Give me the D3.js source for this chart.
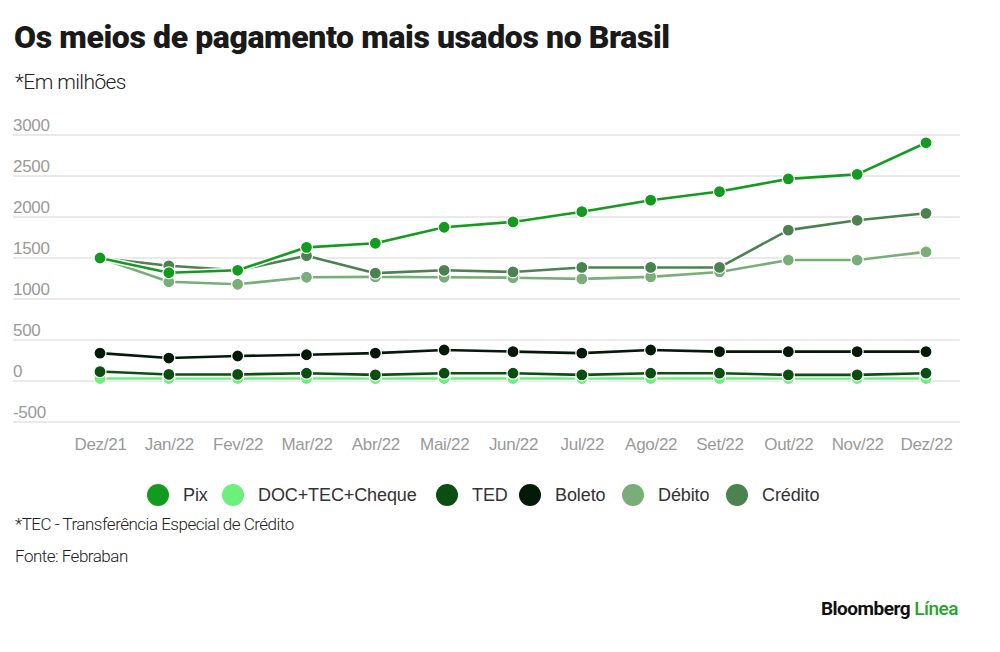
<!DOCTYPE html>
<html>
<head>
<meta charset="utf-8">
<script src="https://cdn.jsdelivr.net/npm/d3@7"></script>
<style>
  body { margin: 0; background: #fff; }
  svg { display: block; font-family: "Liberation Sans", Arial, sans-serif; }
</style>
</head>
<body>
<svg id="chart" width="1000" height="652"></svg>
<script>
// dados (em milhões)
const months = ["Dez/21","Jan/22","Fev/22","Mar/22","Abr/22","Mai/22","Jun/22","Jul/22","Ago/22","Set/22","Out/22","Nov/22","Dez/22"];
const pix     = [1500,1320,1350,1630,1680,1875,1940,2065,2205,2310,2465,2520,2905];
const doc     = [30,30,30,30,30,30,30,30,30,30,30,30,30];
const ted     = [115,80,80,95,75,95,95,75,95,95,75,75,95];
const boleto  = [340,280,305,320,340,378,358,340,378,358,358,358,358];
const debito  = [1500,1210,1180,1265,1270,1265,1260,1245,1270,1330,1475,1475,1575];
const credito = [1500,1405,1350,1528,1315,1350,1330,1385,1385,1385,1840,1960,2045];
const yTicks  = [-500,0,500,1000,1500,2000,2500,3000];

const series = [
  {name:"Pix", values:pix, color:"#139b20"},
  {name:"DOC+TEC+Cheque", values:doc, color:"#6cef7c"},
  {name:"TED", values:ted, color:"#0c4e11"},
  {name:"Boleto", values:boleto, color:"#031a06"},
  {name:"Débito", values:debito, color:"#7aae78"},
  {name:"Crédito", values:credito, color:"#4c8250"}
];
// ordem de desenho (de baixo para cima)
const drawOrder = ["DOC+TEC+Cheque","TED","Boleto","Débito","Crédito","Pix"];

const svg = d3.select("#chart");

svg.append("text").attr("x",14).attr("y",48)
  .attr("font-family","Roboto, sans-serif").attr("font-weight",900)
  .attr("font-size",32).attr("letter-spacing",-0.4).attr("fill","#1a1a1a")
  .text("Os meios de pagamento mais usados no Brasil");

svg.append("text").attr("x",15).attr("y",89)
  .attr("font-family","Roboto, sans-serif").attr("font-weight",300)
  .attr("font-size",21).attr("letter-spacing",-0.6).attr("fill","#222")
  .text("*Em milhões");

const x = d3.scalePoint().domain(months).range([100, 926]);
const y = d3.scaleLinear().domain([-500, 3000]).range([422, 135]);

// grade e rótulos do eixo y
const grid = svg.append("g");
grid.selectAll("line").data(yTicks).join("line")
  .attr("x1",13).attr("x2",960)
  .attr("y1",d=>y(d)).attr("y2",d=>y(d))
  .attr("stroke","#d4d4d4").attr("stroke-width",1);
grid.selectAll("text").data(yTicks).join("text")
  .attr("x",13).attr("y",d=>y(d)-4)
  .attr("font-size",17).attr("fill","#9a9a9a").attr("letter-spacing",-0.3)
  .text(d=>d);

// eixo x
const xAxis = svg.append("g").attr("transform","translate(0,422)")
  .call(d3.axisBottom(x).tickSize(0).tickPadding(16));
xAxis.select(".domain").remove();
xAxis.selectAll("text").attr("font-size",17).attr("fill","#9a9a9a")
  .attr("font-family","Liberation Sans, Arial, sans-serif").attr("letter-spacing",-0.3);

const line = d3.line().x((d,i)=>x(months[i])).y(d=>y(d));

drawOrder.forEach(n=>{
  const s = series.find(d=>d.name===n);
  const g = svg.append("g");
  g.append("path").datum(s.values)
    .attr("d",line).attr("fill","none")
    .attr("stroke","#fff").attr("stroke-width",5.5).attr("stroke-linejoin","round");
  g.append("path").datum(s.values)
    .attr("d",line).attr("fill","none")
    .attr("stroke",s.color).attr("stroke-width",2.6).attr("stroke-linejoin","round");
  g.selectAll("circle").data(s.values).join("circle")
    .attr("cx",(d,i)=>x(months[i])).attr("cy",d=>y(d))
    .attr("r",6).attr("fill",s.color).attr("stroke","#fff").attr("stroke-width",1.2);
});

// legenda
const legendX = [158,233,447,530,633,737];
const legend = svg.append("g");
series.forEach((s,i)=>{
  legend.append("circle").attr("cx",legendX[i]).attr("cy",495).attr("r",11).attr("fill",s.color);
  legend.append("text").attr("x",legendX[i]+25).attr("y",501)
    .attr("font-size",18).attr("fill","#333").attr("letter-spacing",-0.1)
    .text(s.name);
});

svg.append("text").attr("x",15).attr("y",530)
  .attr("font-family","Roboto, sans-serif").attr("font-weight",300)
  .attr("font-size",17).attr("letter-spacing",-0.5).attr("fill","#222")
  .text("*TEC - Transferência Especial de Crédito");

svg.append("text").attr("x",15).attr("y",562)
  .attr("font-family","Roboto, sans-serif").attr("font-weight",300)
  .attr("font-size",17).attr("letter-spacing",-0.5).attr("fill","#222")
  .text("Fonte: Febraban");

const brand = svg.append("text").attr("x",958).attr("y",615).attr("text-anchor","end")
  .attr("font-family","Roboto, sans-serif").attr("font-weight",700)
  .attr("font-size",19).attr("letter-spacing",-0.5);
brand.append("tspan").attr("fill","#111").text("Bloomberg ");
brand.append("tspan").attr("fill","#1fa52c").attr("font-weight",500).text("Línea");
</script>
</body>
</html>
